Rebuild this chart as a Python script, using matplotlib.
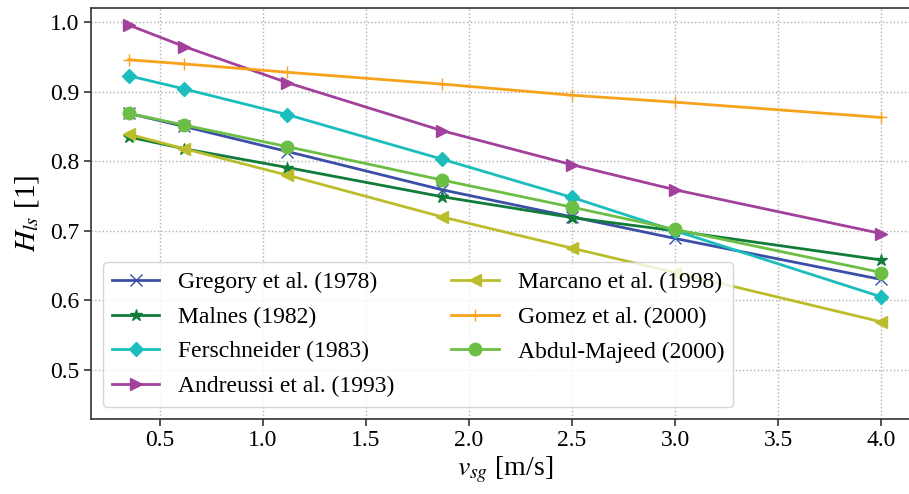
import numpy as np
import matplotlib
matplotlib.use("Agg")
import matplotlib.pyplot as plt

plt.rcParams['font.family'] = ['Liberation Serif', 'DejaVu Serif']
plt.rcParams['mathtext.fontset'] = 'stix'

# superficial gas velocity [m/s]
v_sg = [0.35, 0.62, 1.12, 1.87, 2.5, 3.0, 4.0]

# liquid holdup in slug body, per correlation
gregory = [0.869, 0.850, 0.814, 0.759, 0.720, 0.689, 0.630]
malnes = [0.835, 0.818, 0.791, 0.749, 0.719, 0.700, 0.658]
ferschneider = [0.923, 0.904, 0.867, 0.803, 0.748, 0.700, 0.605]
andreussi = [0.996, 0.965, 0.913, 0.844, 0.795, 0.759, 0.696]
marcano = [0.839, 0.818, 0.780, 0.720, 0.675, 0.640, 0.569]
gomez = [0.946, 0.940, 0.928, 0.911, 0.895, 0.885, 0.863]
abdul_majeed = [0.869, 0.852, 0.821, 0.773, 0.734, 0.702, 0.640]

series = [
    ("Gregory et al. (1978)", gregory, "x", "#3b4fa8"),
    ("Malnes (1982)", malnes, "*", "#117c3a"),
    ("Ferschneider (1983)", ferschneider, "D", "#1bbdbd"),
    ("Andreussi et al. (1993)", andreussi, ">", "#a2419c"),
    ("Marcano et al. (1998)", marcano, "<", "#bcbd2c"),
    ("Gomez et al. (2000)", gomez, "+", "#f8a21c"),
    ("Abdul-Majeed (2000)", abdul_majeed, "o", "#6cbf44"),
]

fig = plt.figure(figsize=(9.09, 4.94), dpi=100)
ax = fig.add_axes([0.1001, 0.1528, 0.9108, 0.8304])

for name, vals, mk, col in series:
    ms = 7 if mk == "D" else 9
    ax.plot(v_sg, vals, marker=mk, color=col, lw=2, ms=ms, label=name)

ax.set_xlim(0.1675, 4.1825)
ax.set_ylim(0.43, 1.02)
ax.set_xticks(np.arange(0.5, 4.01, 0.5))
ax.set_yticks(np.arange(0.5, 1.01, 0.1))
ax.grid(True, linestyle=':', color='#b0b0b0', lw=1)
ax.tick_params(labelsize=17, length=5, width=1.2, color='#333333')
for sp in ax.spines.values():
    sp.set_color('#333333')
    sp.set_linewidth(1.2)

ax.set_xlabel(r"$v_{sg}$ [m/s]", fontsize=20, labelpad=2)
ax.set_ylabel(r"$H_{ls}$ [1]", fontsize=21, labelpad=6)
ax.legend(ncol=2, loc='lower left', fontsize=17, handlelength=2.0,
          columnspacing=2.4, labelspacing=0.56, borderaxespad=0.5)

fig.savefig("out.png", dpi=100)
